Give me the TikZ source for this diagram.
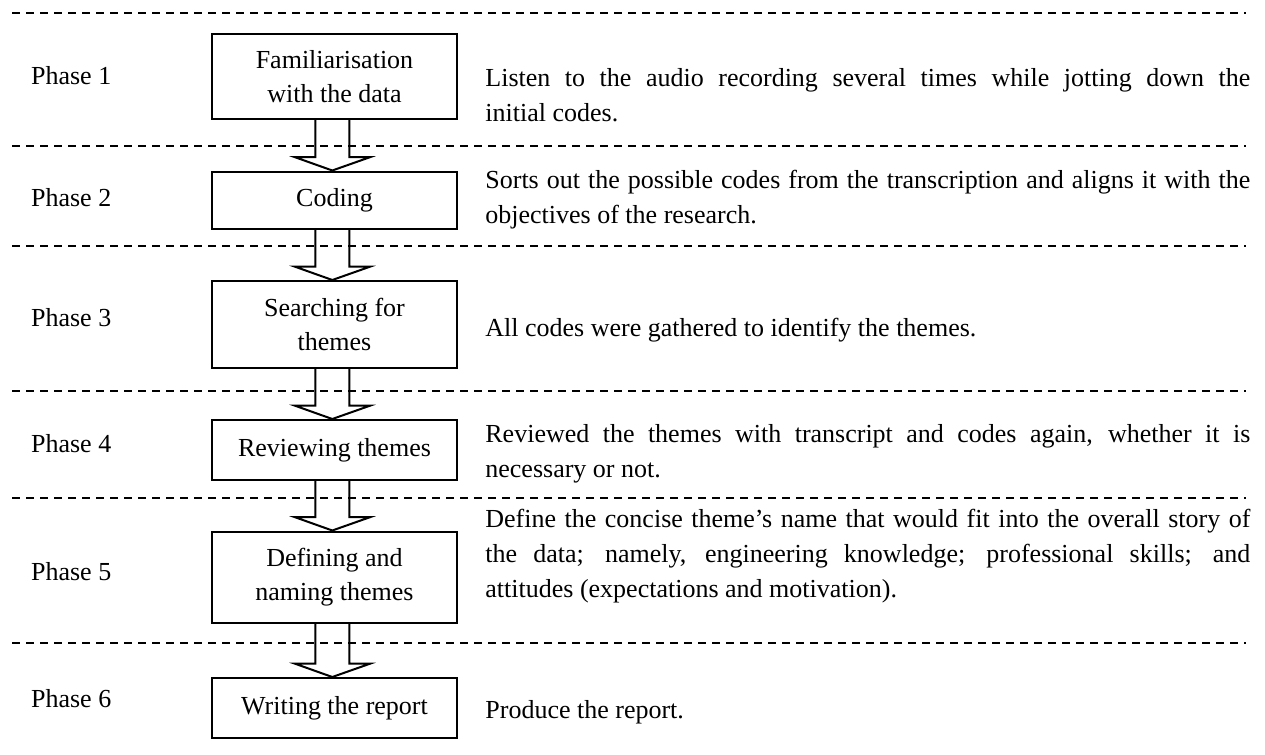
\documentclass[tikz,border=0pt]{standalone}
\usepackage{fontspec}
\setmainfont{Liberation Serif}
\usetikzlibrary{calc}

% hollow block arrow from the bottom of one box to the top of the next
\newcommand\phasearrow[2]{%
  \draw[blockarrow]
    ($(#1.south)+(-19.2,0)$) -- ($(#2.north)+(-19.2,-13.3)$)
    -- ($(#2.north)+(-39.5,-13.3)$) -- ($(#2.north)+(-2.2,0)$)
    -- ($(#2.north)+(35.5,-13.3)$) -- ($(#2.north)+(14.8,-13.3)$)
    -- ($(#1.south)+(14.8,0)$);}

\begin{document}
\begin{tikzpicture}[x=0.5pt,y=-0.5pt,
  phasebox/.style={draw, line width=1pt, minimum width=122.5pt, inner sep=0pt,
    align=center, font=\fontsize{13}{16.75}\selectfont},
  phaselabel/.style={anchor=base west, inner sep=0pt, font=\fontsize{13}{16}\selectfont},
  desc/.style={anchor=base west, inner sep=0pt, text width=382.5pt, align=justify,
    font=\fontsize{13}{17.5}\selectfont},
  separator/.style={line width=0.8pt, dash pattern=on 3.75pt off 3.25pt},
  blockarrow/.style={line width=1pt, line join=miter}]

\path[fill=white, use as bounding box] (0,0) rectangle (1265,755);

% row separators
\foreach \yy in {13,146,246,391,498,643}
  \draw[separator] (12,\yy) -- (1245.5,\yy);

% phase labels
\node[phaselabel] (p1) at (30.7,84)  {Phase 1};
\node[phaselabel] (p2) at (30.7,206) {Phase 2};
\node[phaselabel] (p3) at (30.7,326) {Phase 3};
\node[phaselabel] (p4) at (30.7,452) {Phase 4};
\node[phaselabel] (p5) at (30.7,580) {Phase 5};
\node[phaselabel] (p6) at (30.7,707) {Phase 6};

% process boxes
\node[phasebox, minimum height=42.5pt]  (b1) at (334.5,76.5)  {Familiarisation\\with the data};
\node[phasebox, minimum height=28.75pt] (b2) at (334.5,200.25) {Coding};
\node[phasebox, minimum height=43.25pt] (b3) at (334.5,324.25) {Searching for\\themes};
\node[phasebox, minimum height=30pt]    (b4) at (334.5,450)    {Reviewing themes};
\node[phasebox, minimum height=45.5pt]  (b5) at (334.5,577)    {Defining and\\naming themes};
\node[phasebox, minimum height=30pt]    (b6) at (334.5,708)    {Writing the report};

% arrows between the boxes
\phasearrow{b1}{b2}
\phasearrow{b2}{b3}
\phasearrow{b3}{b4}
\phasearrow{b4}{b5}
\phasearrow{b5}{b6}

% descriptions
\node[desc] (d1) at (485,86) {Listen to the audio recording several times while jotting down the\linebreak initial codes.};
\node[desc] (d2) at (485,188) {Sorts out the possible codes from the transcription and aligns it with the\linebreak objectives of the research.};
\node[desc] (d3) at (485,336) {All codes were gathered to identify the themes.};
\node[desc] (d4) at (485,442) {Reviewed the themes with transcript and codes again, whether it is\linebreak necessary or not.};
\node[desc] (d5) at (485,527) {Define the concise theme’s name that would fit into the overall story of\linebreak the data; namely, engineering knowledge; professional skills; and\linebreak attitudes (expectations and motivation).};
\node[desc] (d6) at (485,718) {Produce the report.};

\end{tikzpicture}
\end{document}
